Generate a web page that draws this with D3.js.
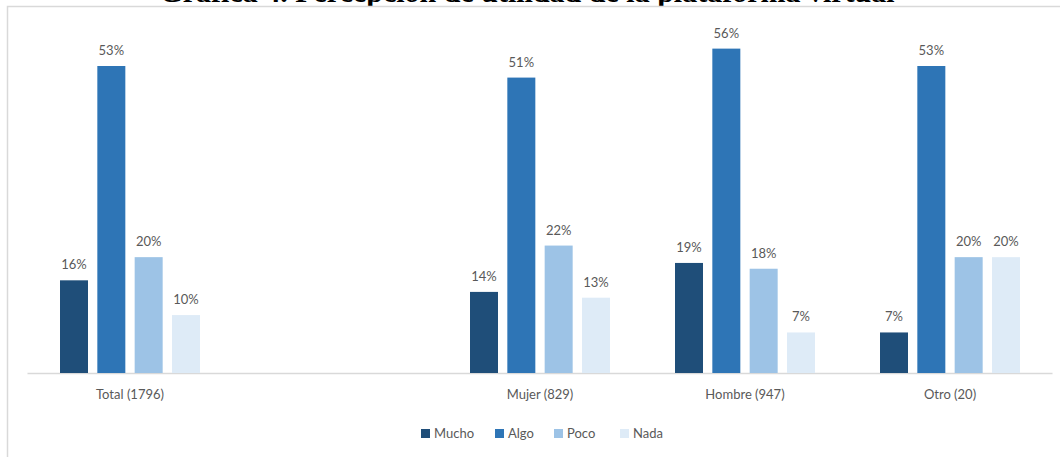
<!DOCTYPE html>
<html>
<head>
<meta charset="utf-8">
<script src="https://cdn.jsdelivr.net/npm/d3@7"></script>
<style>
    body { margin: 0; background: #fff; }
    svg { display: block; }
</style>
</head>
<body>
<div id="chart"></div>
<script>
"use strict";

// chart data
const categories = ["Total (1796)", "", "Mujer (829)", "Hombre (947)", "Otro (20)"];
const series = ["Mucho", "Algo", "Poco", "Nada"];
const colors = ["#1f4e79", "#2e75b6", "#9dc3e6", "#deebf7"];
const mucho = [16, null, 14, 19, 7];
const algo = [53, null, 51, 56, 53];
const poco = [20, null, 22, 18, 20];
const nada = [10, null, 13, 7, 20];
const title = "Gráfica 4. Percepción de utilidad de la plataforma virtual";

const values = [mucho, algo, poco, nada];

const width = 1060;
const height = 457;
const baseY = 373;
const groupWidth = 140;

let svg = d3.select("#chart").append("svg")
    .attr("width", width)
    .attr("height", height);

// title, clipped by the top edge as in the source image
svg.append("text")
    .attr("x", 527)
    .attr("y", 1.5)
    .attr("text-anchor", "middle")
    .style("font-family", "'Liberation Serif', 'DejaVu Serif', serif")
    .style("font-weight", "bold")
    .style("font-size", "30px")
    .style("fill", "#000")
    .text(title);

// chart frame
svg.append("rect")
    .attr("x", 7.5)
    .attr("y", 6.5)
    .attr("width", 1100)
    .attr("height", 500)
    .style("fill", "#fff")
    .style("stroke", "#d9d9d9")
    .style("stroke-width", 1.5);

// setup x
let x0 = d3.scaleBand()
    .domain(categories.map((c, i) => i))
    .range([27.5, 1052.5]);

let x1 = d3.scaleBand()
    .domain(series)
    .range([0, groupWidth])
    .paddingInner(0.25);

let barX = d => x0(d.cat) + (x0.bandwidth() - groupWidth) / 2 + x1(d.series);

// setup y
let y = d3.scaleLinear()
    .domain([0, 53])
    .range([baseY, 66]);

// x-axis line
svg.append("line")
    .attr("x1", x0.range()[0])
    .attr("x2", x0.range()[1])
    .attr("y1", baseY + 0.5)
    .attr("y2", baseY + 0.5)
    .style("stroke", "#d9d9d9")
    .style("stroke-width", 1.5);

// category labels
svg.selectAll(".cat")
    .data(categories)
    .enter()
    .append("text")
    .attr("class", "cat")
    .attr("x", (d, i) => x0(i) + x0.bandwidth() / 2)
    .attr("y", 399)
    .attr("text-anchor", "middle")
    .style("font-family", "Lato, 'Open Sans', sans-serif")
    .style("font-size", "13px")
    .style("fill", "#595959")
    .text(d => d);

// bars and labels
let points = [];
for (let s = 0; s < series.length; s++) {
    for (let i = 0; i < categories.length; i++) {
        if (values[s][i] !== null) {
            points.push({ series: series[s], color: colors[s], cat: i, value: values[s][i] });
        }
    }
}

let groups = svg.append("g");

groups.selectAll(".bar")
    .data(points)
    .enter()
    .append("rect")
    .attr("class", "bar")
    .attr("x", barX)
    .attr("width", x1.bandwidth())
    .attr("y", d => y(d.value))
    .attr("height", d => baseY - y(d.value))
    .style("fill", d => d.color);

groups.selectAll(".lbl")
    .data(points)
    .enter()
    .append("text")
    .attr("class", "lbl")
    .attr("x", d => barX(d) + x1.bandwidth() / 2)
    .attr("y", d => y(d.value) - 11)
    .attr("text-anchor", "middle")
    .style("font-family", "Lato, 'Open Sans', sans-serif")
    .style("font-size", "13px")
    .style("fill", "#595959")
    .text(d => d.value + "%");

// legend
let legendX = [421, 495, 554, 620];
let legend = svg.selectAll(".legend")
    .data(series)
    .enter()
    .append("g")
    .attr("class", "legend")
    .attr("transform", (d, i) => "translate(" + legendX[i] + ",429)");

legend.append("rect")
    .attr("width", 9)
    .attr("height", 9)
    .style("fill", (d, i) => colors[i]);

legend.append("text")
    .attr("x", 13)
    .attr("y", 9)
    .style("font-family", "Lato, 'Open Sans', sans-serif")
    .style("font-size", "13px")
    .style("fill", "#595959")
    .text(d => d);
</script>
</body>
</html>
